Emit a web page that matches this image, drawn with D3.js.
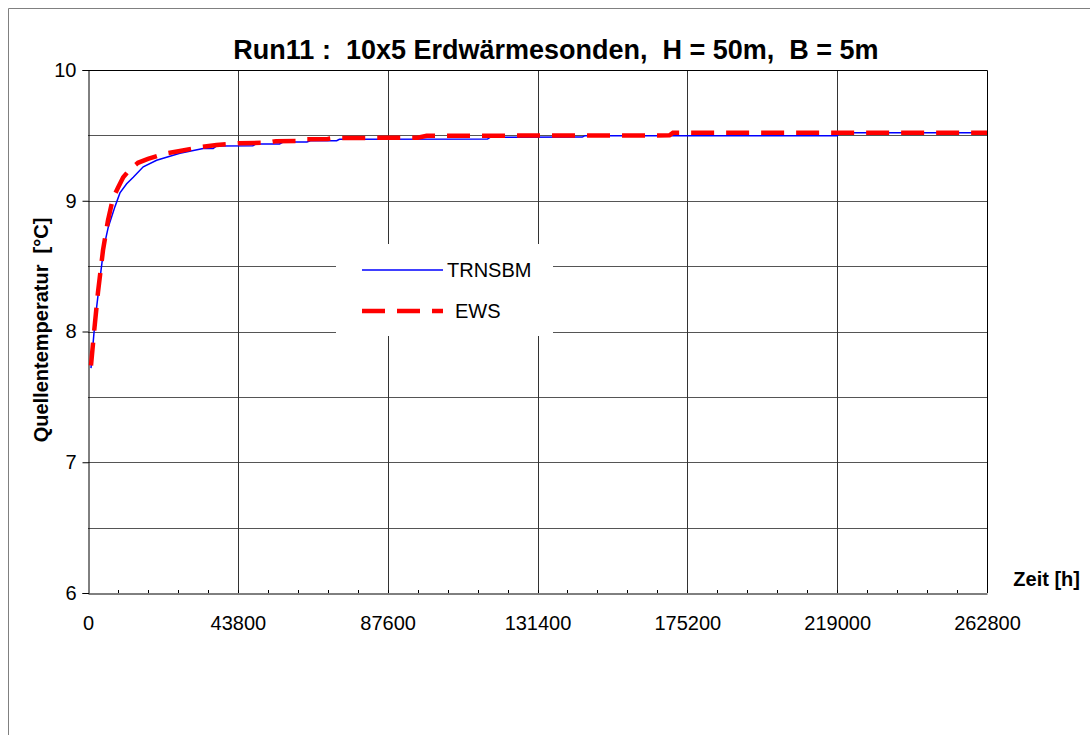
<!DOCTYPE html>
<html>
<head>
<meta charset="utf-8">
<script src="https://cdn.jsdelivr.net/npm/d3@7"></script>
<style>
  body { margin: 0; background: #fff; }
  svg { font-family: "Liberation Sans", Arial, sans-serif; }
</style>
</head>
<body>
<svg id="chart"></svg>
<script>
// Data
const trnsbmTime = [876, 1752, 2540, 3700, 4670, 5940, 7880, 9340, 11300, 13230, 16150, 20060, 26860, 33670, 36600, 37580,
  48200, 49000, 56000, 57000, 64000, 65000, 72700, 73500, 116800, 117500, 144500, 145300, 219000, 219800, 262800];
const trnsbmTemp = [7.72, 7.99, 8.19, 8.445, 8.65, 8.80, 8.955, 9.06, 9.13, 9.18, 9.26, 9.31, 9.363, 9.40, 9.40, 9.419,
  9.421, 9.434, 9.434, 9.449, 9.449, 9.459, 9.459, 9.470, 9.472, 9.485, 9.487, 9.498, 9.498, 9.52, 9.52];

const ewsTime = [876, 1752, 2920, 4380, 5840, 7300, 8760, 10300, 12260, 14600, 17520, 22500, 26860, 32700, 37580, 43800,
  52560, 55000, 61320, 63000, 70080, 72000, 96360, 99000, 170000, 171000, 262800];
const ewsTemp = [7.74, 7.99, 8.30, 8.62, 8.85, 9.02, 9.10, 9.18, 9.24, 9.29, 9.32, 9.36, 9.38, 9.41, 9.426, 9.439,
  9.444, 9.456, 9.458, 9.471, 9.473, 9.480, 9.482, 9.497, 9.50, 9.52, 9.52];

const xTicks = [0, 43800, 87600, 131400, 175200, 219000, 262800];
const xMinorTicks = d3.range(0, 262800, 8760);
const yTicks = [6, 7, 8, 9, 10];
const yGrid = [6.5, 7, 7.5, 8, 8.5, 9, 9.5];

const title = 'Run11 :  10x5 Erdwärmesonden,  H = 50m,  B = 5m';

// Dimensions
const W = 1090, H = 735;
const plot = { left: 88, right: 987, top: 70, bottom: 593 };

const svg = d3.select('#chart')
  .attr('width', W)
  .attr('height', H);

// outer frame
svg.append('path')
  .attr('d', `M8.5,${H} V8.5 H${W}`)
  .attr('fill', 'none')
  .attr('stroke', '#808080')
  .attr('stroke-width', 1);

const x = d3.scaleLinear().domain([0, 262800]).range([plot.left, plot.right]);
const y = d3.scaleLinear().domain([6, 10]).range([plot.bottom, plot.top]);

// Gridlines
svg.append('g')
  .selectAll('line')
  .data(yGrid)
  .enter()
  .append('line')
  .attr('x1', plot.left).attr('x2', plot.right)
  .attr('y1', d => Math.round(y(d)) + 0.5).attr('y2', d => Math.round(y(d)) + 0.5)
  .attr('stroke', '#555');

svg.append('g')
  .selectAll('line')
  .data(xTicks.slice(1, -1))
  .enter()
  .append('line')
  .attr('x1', d => Math.round(x(d)) + 0.5).attr('x2', d => Math.round(x(d)) + 0.5)
  .attr('y1', plot.top).attr('y2', plot.bottom)
  .attr('stroke', '#333');

// Plot frame (top + right), axes
svg.append('path')
  .attr('d', `M${plot.left + 0.5},${plot.top + 0.5} H${plot.right + 0.5} V${plot.bottom}`)
  .attr('fill', 'none')
  .attr('stroke', '#000');

// Y axis
const yAxis = d3.axisLeft(y)
  .tickValues(yTicks)
  .tickSize(6)
  .tickPadding(6)
  .tickFormat(d3.format('d'));

svg.append('g')
  .attr('transform', `translate(${plot.left + 0.5},0)`)
  .call(yAxis)
  .call(g => g.select('.domain').attr('stroke', '#000'))
  .call(g => g.selectAll('text').attr('font-size', 20).attr('fill', '#000')
    .attr('font-family', '"Liberation Sans", Arial, sans-serif'));

// X axis: labels under major gridlines, small ticks pointing up
const xAxis = d3.axisBottom(x)
  .tickValues(xTicks)
  .tickSize(0)
  .tickPadding(22)
  .tickFormat(d3.format('d'));

svg.append('g')
  .attr('transform', `translate(0,${plot.bottom + 0.5})`)
  .call(xAxis)
  .call(g => g.select('.domain').attr('stroke', '#000'))
  .call(g => g.selectAll('text').attr('font-size', 20).attr('fill', '#000')
    .attr('font-family', '"Liberation Sans", Arial, sans-serif'));

svg.append('g')
  .selectAll('line')
  .data(xMinorTicks.slice(1))
  .enter()
  .append('line')
  .attr('x1', d => Math.round(x(d)) + 0.5).attr('x2', d => Math.round(x(d)) + 0.5)
  .attr('y1', plot.bottom - 3).attr('y2', plot.bottom)
  .attr('stroke', '#000');

// Lines
const line = d3.line()
  .x(d => x(d[0]))
  .y(d => y(d[1]));

svg.append('path')
  .datum(d3.zip(trnsbmTime, trnsbmTemp))
  .attr('d', line)
  .attr('fill', 'none')
  .attr('stroke', '#0000ff')
  .attr('stroke-width', 1.5);

svg.append('path')
  .datum(d3.zip(ewsTime, ewsTemp))
  .attr('d', line)
  .attr('fill', 'none')
  .attr('stroke', '#ff0000')
  .attr('stroke-width', 4.5)
  .attr('stroke-dasharray', '23,12');

// Legend
const legend = svg.append('g');
legend.append('rect')
  .attr('x', 336).attr('y', 244)
  .attr('width', 217).attr('height', 92)
  .attr('fill', '#fff');

legend.append('line')
  .attr('x1', 362).attr('x2', 443).attr('y1', 270).attr('y2', 270)
  .attr('stroke', '#0000ff').attr('stroke-width', 1.5);
legend.append('text')
  .attr('x', 447).attr('y', 270).attr('dy', '0.35em')
  .attr('font-size', 20).text('TRNSBM');

legend.append('line')
  .attr('x1', 362).attr('x2', 443).attr('y1', 311).attr('y2', 311)
  .attr('stroke', '#ff0000').attr('stroke-width', 4.5)
  .attr('stroke-dasharray', '23,12');
legend.append('text')
  .attr('x', 455).attr('y', 311).attr('dy', '0.35em')
  .attr('font-size', 20).text('EWS');

// Titles
svg.append('text')
  .attr('x', 556).attr('y', 59)
  .attr('text-anchor', 'middle')
  .attr('font-size', 27).attr('font-weight', 'bold')
  .style('white-space', 'pre')
  .text(title);

svg.append('text')
  .attr('transform', 'translate(48,330) rotate(-90)')
  .attr('text-anchor', 'middle')
  .attr('font-size', 20).attr('font-weight', 'bold')
  .style('white-space', 'pre')
  .text('Quellentemperatur  [°C]');

svg.append('text')
  .attr('x', 1080).attr('y', 586)
  .attr('text-anchor', 'end')
  .attr('font-size', 20).attr('font-weight', 'bold')
  .text('Zeit [h]');
</script>
</body>
</html>
